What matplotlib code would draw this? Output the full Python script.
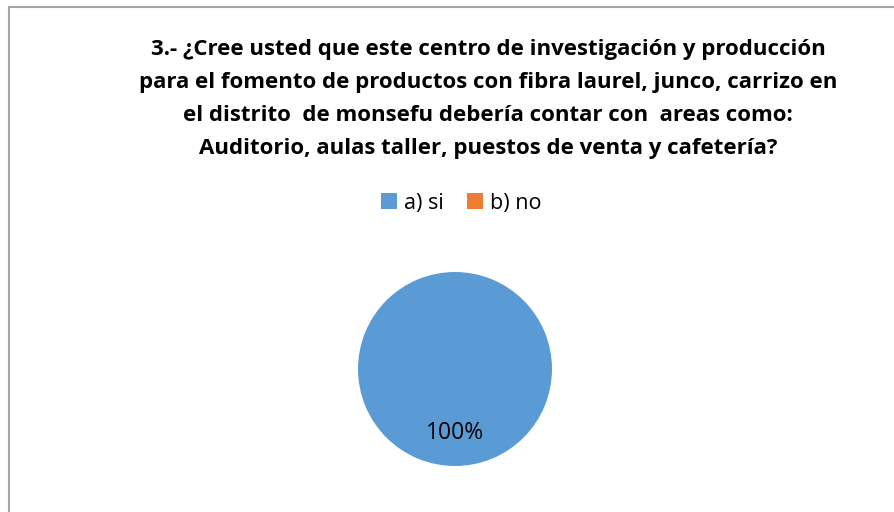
import matplotlib.pyplot as plt
from matplotlib.patches import Rectangle, Patch

# data
labels = ['a) si', 'b) no']
values = [100, 0]
colors = ['#5b9bd5', '#ed7d31']
title_lines = [
    '3.- ¿Cree usted que este centro de investigación y producción',
    'para el fomento de productos con fibra laurel, junco, carrizo en',
    'el distrito  de monsefu debería contar con  areas como:',
    'Auditorio, aulas taller, puestos de venta y cafetería?',
]

W, H = 894, 512
fig = plt.figure(figsize=(W / 100, H / 100), dpi=100)
fig.patch.set_facecolor('white')

# chart border (left and top visible, runs off right/bottom)
fig.add_artist(Rectangle((8.5 / W, -0.02), 1.05, (H - 6.5) / H + 0.02, transform=fig.transFigure,
                         fill=False, edgecolor='#a6a6a6', lw=1.5))

for i, line in enumerate(title_lines):
    fig.text(488 / W, 1 - (49 + i * 33.3) / H, line, ha='center', va='center',
             fontsize=16, fontweight='bold', family='Open Sans', color='black')

# pie
ax = fig.add_axes([358 / W, (H - 466) / H, 194 / W, 194 / H])

def fmt(p):
    return '%d%%' % round(p) if p > 0 else ''

wedges, texts, autotexts = ax.pie(values, colors=colors, startangle=90, counterclock=False,
                                  autopct=fmt, pctdistance=0.66,
                                  textprops={'fontsize': 16.5, 'family': 'Open Sans', 'color': 'black'})
ax.set_xlim(-1, 1)
ax.set_ylim(-1, 1)
ax.set_aspect('equal')
ax.axis('off')

handles = [Patch(facecolor=c, label=l) for c, l in zip(colors, labels)]
fig.legend(handles=handles, loc='center', bbox_to_anchor=(461 / W, 1 - 203 / H), ncol=2,
           frameon=False, handlelength=0.75, handleheight=0.75, handletextpad=0.3, columnspacing=1.1,
           prop={'family': 'Open Sans', 'size': 15.5})

fig.savefig('out.png', dpi=100)
